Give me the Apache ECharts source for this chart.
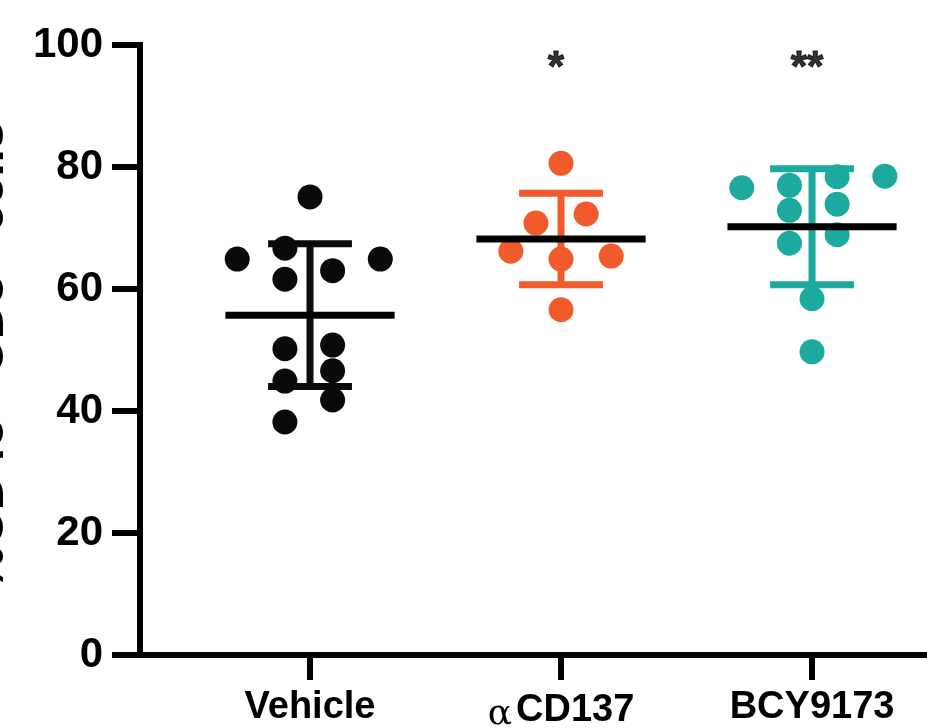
<!DOCTYPE html>
<html>
<head>
<meta charset="utf-8">
<script src="https://cdn.jsdelivr.net/npm/echarts@6/dist/echarts.min.js"></script>
<style>
  html, body { margin: 0; padding: 0; background: #fff; }
  #chart { width: 927px; height: 728px; }
</style>
</head>
<body>
<div id="chart"></div>
<script>
// groups on the x axis (value axis, group i sits at x = i + 1)
const categories = ['Vehicle', 'αCD137', 'BCY9173']
const groupColors = ['#0a0a0a', '#f15b2c', '#1daa9e']

// individual animals: [x position incl. jitter, % value]
const vehiclePoints = [
  [1.00, 75.1], [0.71, 64.9], [0.90, 66.7], [1.28, 64.9],
  [0.90, 61.6], [1.09, 63.0], [0.90, 50.2], [1.09, 50.8],
  [0.90, 44.9], [1.09, 46.6], [1.09, 41.8], [0.90, 38.2]
]
const cd137Points = [
  [2.00, 80.6], [1.90, 70.8], [2.10, 72.3], [1.80, 66.2],
  [2.00, 64.9], [2.20, 65.4], [2.00, 56.6]
]
const bcyPoints = [
  [2.72, 76.6], [2.91, 77.0], [3.10, 78.4], [3.29, 78.5],
  [2.91, 72.9], [3.10, 73.9], [3.10, 68.9], [2.91, 67.5],
  [3.00, 58.4], [3.00, 49.7]
]

// mean ± SD
const groupMeans = [55.7, 68.2, 70.2]
const groupSDs = [11.7, 7.5, 9.5]

// significance marks above the groups
const sigLabels = ['*', '**']
const sigPoints = [[2, 96.2], [3, 96.2]]

const yTicks = [0, 20, 40, 60, 80, 100]

const FONT = '"Liberation Sans", Arial, Helvetica, sans-serif'

const chart = echarts.init(document.getElementById('chart'))

const scatter = (pts, color) => ({
  type: 'scatter', data: pts, symbol: 'circle', symbolSize: 25,
  itemStyle: { color, opacity: 1 }, z: 2, silent: true
})

chart.setOption({
  animation: false,
  backgroundColor: '#fff',
  grid: { left: 140, right: 0, top: 45, bottom: 73, containLabel: false, outerBoundsMode: 'none' },
  xAxis: {
    type: 'value', min: 0.3227, max: 3.458,
    axisLine: { onZero: false, lineStyle: { color: '#000', width: 6, cap: 'square' } },
    axisTick: { show: true, customValues: [1, 2, 3], length: 25, lineStyle: { color: '#000', width: 6 } },
    axisLabel: {
      customValues: [1, 2, 3], margin: 34, hideOverlap: false,
      color: '#000', fontFamily: FONT, fontWeight: 'bold', fontSize: 38,
      formatter: (v) => {
        const name = categories[Math.round(v) - 1]
        return name.startsWith('α') ? '{a|α}' + name.slice(1) : name
      },
      rich: {
        a: { fontFamily: '"DejaVu Serif", "Liberation Serif", serif', fontWeight: 'normal', fontSize: 36, color: '#000', padding: [8, 4, 0, 0] }
      }
    },
    splitLine: { show: false }
  },
  yAxis: {
    type: 'value', min: 0, max: 100, interval: 20,
    name: '%CD45+ CD8+ cells', nameLocation: 'middle', nameRotate: 90, nameGap: 126,
    nameMoveOverlap: false,
    nameTextStyle: { color: '#000', fontFamily: FONT, fontWeight: 'bold', fontSize: 50, padding: [0, 12, 0, 0] },
    axisLine: { show: true, onZero: false, lineStyle: { color: '#000', width: 6, cap: 'square' } },
    axisTick: { show: true, length: 28, lineStyle: { color: '#000', width: 6 } },
    axisLabel: {
      margin: 37, color: '#000', fontFamily: FONT, fontWeight: 'bold', fontSize: 42,
      formatter: (v) => yTicks.includes(v) ? String(v) : ''
    },
    splitLine: { show: false }
  },
  series: [
    scatter(vehiclePoints, groupColors[0]),
    scatter(cd137Points, groupColors[1]),
    scatter(bcyPoints, groupColors[2]),
    // mean line + SD error bars
    {
      type: 'custom', z: 3, silent: true,
      data: groupMeans.map((m, i) => [i + 1, m, groupSDs[i]]),
      renderItem: (params, api) => {
        const x = api.value(0), m = api.value(1), sd = api.value(2)
        const c = api.coord([x, m])
        const top = api.coord([x, m + sd])
        const bot = api.coord([x, m - sd])
        const unit = api.size([1, 0])[0]
        const capHalf = unit * 0.167, meanHalf = unit * 0.337
        const col = groupColors[params.dataIndex]
        const seg = (x1, y1, x2, y2, stroke) => ({
          type: 'line', shape: { x1, y1, x2, y2 }, style: { stroke, lineWidth: 7 }
        })
        return {
          type: 'group',
          children: [
            seg(c[0], top[1], c[0], bot[1], col),
            seg(c[0] - capHalf, top[1], c[0] + capHalf, top[1], col),
            seg(c[0] - capHalf, bot[1], c[0] + capHalf, bot[1], col),
            seg(c[0] - meanHalf, c[1], c[0] + meanHalf, c[1], '#000')
          ]
        }
      }
    },
    // significance asterisks
    {
      type: 'scatter', symbolSize: 0, silent: true, z: 4,
      data: sigPoints,
      label: {
        show: true, position: 'inside', offset: [-5, 0],
        color: '#000', fontFamily: FONT, fontWeight: 'bold', fontSize: 42,
        textBorderColor: '#000', textBorderWidth: 1,
        formatter: (p) => sigLabels[p.dataIndex]
      }
    }
  ]
})
</script>
</body>
</html>
